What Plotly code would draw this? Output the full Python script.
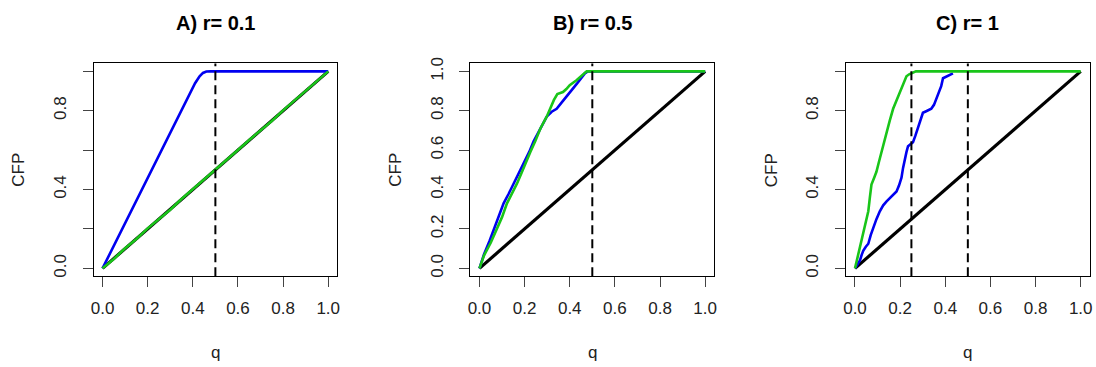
import plotly.graph_objects as go

# ---------------- data ----------------
panel_titles = ["A) r= 0.1", "B) r= 0.5", "C) r= 1"]
x_tickvals = [0, 0.2, 0.4, 0.6, 0.8, 1.0]
x_ticktext = ["0.0", "0.2", "0.4", "0.6", "0.8", "1.0"]
y_tickvals = [0, 0.2, 0.4, 0.6, 0.8, 1.0]
y_ticktext_sparse = ["0.0", "", "0.4", "", "0.8", ""]
y_ticktext_full = ["0.0", "0.2", "0.4", "0.6", "0.8", "1.0"]

ref_q = [0, 1]
ref_y = [0, 1]

# Panel A
a_blue_q = [0, 0.1, 0.2, 0.3, 0.38, 0.41, 0.43, 0.445, 0.46, 0.48, 1.0]
a_blue_y = [0, 0.23, 0.46, 0.69, 0.874, 0.94, 0.975, 0.992, 0.999, 1.0, 1.0]
a_green_q = [0, 0.05, 0.1, 0.15, 0.2, 0.25, 0.3, 0.35, 0.4, 0.45, 0.5,
             0.55, 0.6, 0.65, 0.7, 0.75, 0.8, 0.85, 0.9, 0.95, 1.0]
a_green_y = [0, 0.048, 0.102, 0.149, 0.203, 0.251, 0.298, 0.352, 0.401, 0.449, 0.502,
             0.548, 0.601, 0.652, 0.699, 0.748, 0.802, 0.851, 0.898, 0.951, 1.0]
a_vlines = [0.5]

# Panel B
b_blue_q = [0, 0.02, 0.045, 0.07, 0.09, 0.107, 0.13, 0.151, 0.175, 0.195, 0.22, 0.24,
            0.27, 0.298, 0.32, 0.342, 0.37, 0.40, 0.43, 0.467, 0.48, 1.0]
b_blue_y = [0, 0.07, 0.14, 0.215, 0.28, 0.33, 0.38, 0.43, 0.48, 0.53, 0.59, 0.645,
            0.71, 0.77, 0.795, 0.81, 0.85, 0.89, 0.935, 0.99, 1.0, 1.0]
b_green_q = [0, 0.02, 0.05, 0.078, 0.1, 0.122, 0.145, 0.166, 0.185, 0.202, 0.225, 0.247,
             0.27, 0.298, 0.313, 0.33, 0.345, 0.357, 0.37, 0.385, 0.40, 0.43, 0.45,
             0.467, 0.475, 1.0]
b_green_y = [0, 0.065, 0.13, 0.2, 0.26, 0.33, 0.38, 0.43, 0.48, 0.53, 0.59, 0.645,
             0.71, 0.77, 0.81, 0.855, 0.885, 0.89, 0.895, 0.91, 0.93, 0.955, 0.975,
             0.99, 1.0, 1.0]
b_vlines = [0.5]

# Panel C
c_blue_q = [0, 0.01, 0.022, 0.03, 0.037, 0.048, 0.059, 0.07, 0.081, 0.095, 0.11, 0.125,
            0.14, 0.16, 0.184, 0.195, 0.206, 0.213, 0.221, 0.228, 0.235, 0.257, 0.268,
            0.279, 0.29, 0.301, 0.32, 0.338, 0.35, 0.36, 0.37, 0.382, 0.39, 0.40,
            0.419, 0.434]
c_blue_y = [0, 0.02, 0.04, 0.07, 0.09, 0.11, 0.125, 0.17, 0.21, 0.25, 0.29, 0.32,
            0.34, 0.365, 0.39, 0.42, 0.46, 0.51, 0.56, 0.59, 0.62, 0.64, 0.675,
            0.71, 0.75, 0.79, 0.80, 0.81, 0.83, 0.86, 0.88, 0.925, 0.965, 0.97,
            0.983, 0.99]
c_green_q = [0, 0.008, 0.015, 0.025, 0.036, 0.048, 0.059, 0.066, 0.073, 0.085, 0.095,
             0.106, 0.117, 0.128, 0.139, 0.154, 0.169, 0.184, 0.198, 0.213, 0.228,
             0.24, 0.25, 0.27, 1.0]
c_green_y = [0, 0.04, 0.075, 0.13, 0.19, 0.24, 0.29, 0.36, 0.425, 0.46, 0.49,
             0.54, 0.59, 0.64, 0.69, 0.75, 0.81, 0.85, 0.89, 0.935, 0.975,
             0.985, 0.99, 1.0, 1.0]
c_vlines = [0.25, 0.5]

panels = [
    (a_blue_q, a_blue_y, a_green_q, a_green_y, a_vlines, y_ticktext_sparse),
    (b_blue_q, b_blue_y, b_green_q, b_green_y, b_vlines, y_ticktext_full),
    (c_blue_q, c_blue_y, c_green_q, c_green_y, c_vlines, y_ticktext_sparse),
]

# ---------------- layout ----------------
W, H = 1096, 367
box_left_px = [91, 470, 847.6]
box_w_px = 245.1
box_top_px, box_bot_px = 58.6, 275.5
ydom = [1 - box_bot_px / H, 1 - box_top_px / H]

FONT = "Liberation Sans, Arial, Helvetica, sans-serif"
BLUE = "#0000F0"
GREEN = "#19C519"

fig = go.Figure()
annotations = []
shapes = []

for i, (bq, by, gq, gy, vls, ytext) in enumerate(panels):
    n = "" if i == 0 else str(i + 1)
    xa, ya = "x" + n, "y" + n
    x0 = box_left_px[i] / W
    x1 = (box_left_px[i] + box_w_px) / W

    fig.add_trace(go.Scatter(x=ref_q, y=ref_y, mode="lines", xaxis=xa, yaxis=ya,
                             line=dict(color="black", width=3.2), showlegend=False))
    fig.add_trace(go.Scatter(x=bq, y=by, mode="lines", xaxis=xa, yaxis=ya,
                             line=dict(color=BLUE, width=2.6), showlegend=False))
    fig.add_trace(go.Scatter(x=gq, y=gy, mode="lines", xaxis=xa, yaxis=ya,
                             line=dict(color=GREEN, width=2.6), showlegend=False))

    for v in vls:
        shapes.append(dict(type="line", xref=xa, yref=ya + " domain", x0=v, x1=v,
                           y0=0, y1=1, line=dict(color="black", width=2, dash="9px,5px")))

    axis_common = dict(range=[-0.04, 1.04], showgrid=False, zeroline=False,
                       showline=True, mirror=True, linecolor="black", linewidth=1,
                       ticks="outside", ticklen=10, tickcolor="#444", tickwidth=1,
                       tickfont=dict(family=FONT, size=17, color="#222"))
    fig.update_layout({
        "xaxis" + n: dict(axis_common, domain=[x0, x1], anchor=ya,
                          tickvals=x_tickvals, ticktext=x_ticktext,
                          ticklabelstandoff=6),
        "yaxis" + n: dict(axis_common, domain=ydom, anchor=xa,
                          tickvals=y_tickvals, ticktext=ytext, tickangle=-90,
                          ticklabelstandoff=10),
    })

    cx = (x0 + x1) / 2
    annotations.append(dict(text="<b>" + panel_titles[i] + "</b>", x=cx, y=1 - 17.5 / H,
                            xref="paper", yref="paper", showarrow=False,
                            xanchor="center", yanchor="middle",
                            font=dict(family=FONT, size=20, color="black")))
    annotations.append(dict(text="q", x=cx, y=1 - 353 / H, xref="paper", yref="paper",
                            showarrow=False, xanchor="center", yanchor="middle",
                            font=dict(family=FONT, size=17, color="#222")))
    annotations.append(dict(text="CFP", x=(box_left_px[i] - 75) / W,
                            y=1 - 167 / H, xref="paper", yref="paper",
                            showarrow=False, xanchor="center", yanchor="middle",
                            textangle=-90,
                            font=dict(family=FONT, size=17, color="#222")))

fig.update_layout(width=W, height=H, margin=dict(l=0, r=0, t=0, b=0),
                  paper_bgcolor="white", plot_bgcolor="white",
                  annotations=annotations, shapes=shapes)

fig.write_html("out.html",
               config={"displayModeBar": False},
               post_script="document.body.style.margin='0';"
                           "document.body.style.overflow='hidden';")
